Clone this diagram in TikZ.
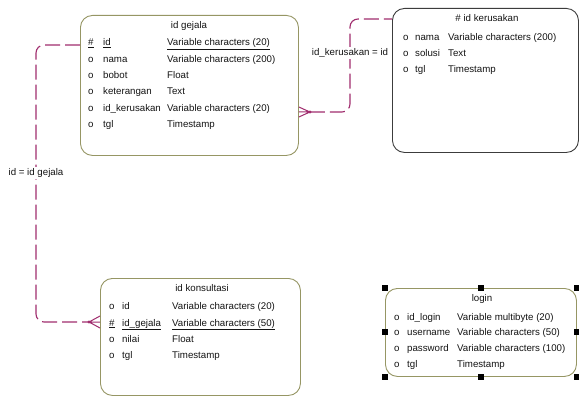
\documentclass[tikz,border=0pt]{standalone}
\usepackage{fontspec}
\setmainfont{Liberation Sans}
\definecolor{olivebd}{RGB}{150,150,100}
\definecolor{darkbd}{RGB}{60,60,60}
\definecolor{relcol}{RGB}{160,45,110}
\definecolor{txtcol}{RGB}{20,20,20}
\tikzset{
  ent/.style={draw=olivebd, line width=0.9pt, rounded corners=12pt, anchor=north west, inner sep=0pt},
  entdark/.style={ent, draw=darkbd},
  txt/.style={anchor=west, inner sep=0pt, text=txtcol, font=\fontsize{9.7}{11}\selectfont, text height=7pt, text depth=2pt},
  ttl/.style={txt, anchor=center},
  rel/.style={draw=relcol, line width=1.1pt, dash pattern=on 15pt off 5pt, rounded corners=8pt},
  relfoot/.style={draw=relcol, line width=1pt},
  lab/.style={txt, anchor=center, fill=white, inner sep=1.5pt},
  handle/.style={fill=black}
}
\begin{document}
\begin{tikzpicture}[x=1pt, y=-1pt]
\useasboundingbox[fill=white] (0,0) rectangle (579,396);

% ---------- id gejala ----------
\node[ent, minimum width=218pt, minimum height=140pt] (gejala) at (80,15) {};
\node[ttl] (gt) at (189,26) {id gejala};
\node[txt] (gm1) at (88,43.5) {\underline{\#}};
\node[txt] (gn1) at (103,43.5) {\underline{id}};
\node[txt] (gy1) at (167,43.5) {\underline{Variable characters (20)}};
\node[txt] (gm2) at (88,60) {o};
\node[txt] (gn2) at (103,60) {nama};
\node[txt] (gy2) at (167,60) {Variable characters (200)};
\node[txt] (gm3) at (88,76.5) {o};
\node[txt] (gn3) at (103,76.5) {bobot};
\node[txt] (gy3) at (167,76.5) {Float};
\node[txt] (gm4) at (88,92.5) {o};
\node[txt] (gn4) at (103,92.5) {keterangan};
\node[txt] (gy4) at (167,92.5) {Text};
\node[txt] (gm5) at (88,108.5) {o};
\node[txt] (gn5) at (103,108.5) {id\_kerusakan};
\node[txt] (gy5) at (167,108.5) {Variable characters (20)};
\node[txt] (gm6) at (88,125) {o};
\node[txt] (gn6) at (103,125) {tgl};
\node[txt] (gy6) at (167,125) {Timestamp};

% ---------- # id kerusakan ----------
\node[entdark, minimum width=186pt, minimum height=144pt] (kerus) at (392,8) {};
\node[ttl] (kt) at (487,19) {\# id kerusakan};
\node[txt] (km1) at (403,38) {o};
\node[txt] (kn1) at (415,38) {nama};
\node[txt] (ky1) at (448,38) {Variable characters (200)};
\node[txt] (km2) at (403,54) {o};
\node[txt] (kn2) at (415,54) {solusi};
\node[txt] (ky2) at (448,54) {Text};
\node[txt] (km3) at (403,70.5) {o};
\node[txt] (kn3) at (415,70.5) {tgl};
\node[txt] (ky3) at (448,70.5) {Timestamp};

% ---------- id konsultasi ----------
\node[ent, minimum width=200pt, minimum height=117pt] (kons) at (100,278) {};
\node[ttl] (ot) at (202,289) {id konsultasi};
\node[txt] (om1) at (109,307) {o};
\node[txt] (on1) at (122,307) {id};
\node[txt] (oy1) at (172,307) {Variable characters (20)};
\node[txt] (om2) at (109,323.5) {\underline{\#}};
\node[txt] (on2) at (122,323.5) {\underline{id\_gejala}};
\node[txt] (oy2) at (172,323.5) {\underline{Variable characters (50)}};
\node[txt] (om3) at (109,340) {o};
\node[txt] (on3) at (122,340) {nilai};
\node[txt] (oy3) at (172,340) {Float};
\node[txt] (om4) at (109,356) {o};
\node[txt] (on4) at (122,356) {tgl};
\node[txt] (oy4) at (172,356) {Timestamp};

% ---------- login ----------
\node[ent, minimum width=191pt, minimum height=88pt] (login) at (385,288) {};
\node[ttl] (lt) at (482,299) {login};
\node[txt] (lm1) at (394,317.5) {o};
\node[txt] (ln1) at (407,317.5) {id\_login};
\node[txt] (ly1) at (457,317.5) {Variable multibyte (20)};
\node[txt] (lm2) at (394,333) {o};
\node[txt] (ln2) at (407,333) {username};
\node[txt] (ly2) at (457,333) {Variable characters (50)};
\node[txt] (lm3) at (394,349) {o};
\node[txt] (ln3) at (407,349) {password};
\node[txt] (ly3) at (457,349) {Variable characters (100)};
\node[txt] (lm4) at (394,365) {o};
\node[txt] (ln4) at (407,365) {tgl};
\node[txt] (ly4) at (457,365) {Timestamp};
% selection handles
\foreach \a in {north west, north, north east, west, east, south west, south, south east}
  \fill[handle] (login.\a) ++(-3,-3) rectangle ++(6,6);

% ---------- relation gejala -> kerusakan ----------
\coordinate (yA) at (0,112);
\coordinate (yB) at (0,19);
\coordinate (bendA) at (350,0);
\coordinate (cA) at (gejala.east |- yA);
\coordinate (tipA) at ([xshift=11pt]cA);
\draw[rel] (tipA) -- (bendA |- cA) -- (bendA |- yB) -- (kerus.west |- yB);
\draw[relfoot] (tipA) -- ([yshift=5pt]cA) (tipA) -- (cA) (tipA) -- ([yshift=-5pt]cA);
\fill[relcol] (tipA) circle (1.6pt);
\node[lab] (labA) at (350,53) {id\_kerusakan = id};

% ---------- relation gejala -> konsultasi ----------
\coordinate (yC) at (0,45);
\coordinate (yD) at (0,322);
\coordinate (bendB) at (36,0);
\coordinate (cB) at (kons.west |- yD);
\coordinate (tipB) at ([xshift=-11pt]cB);
\draw[rel] (gejala.west |- yC) -- (bendB |- yC) -- (bendB |- yD) -- (tipB);
\draw[relfoot] (tipB) -- ([yshift=6pt]cB) (tipB) -- (cB) (tipB) -- ([yshift=-6pt]cB);
\fill[relcol] (tipB) circle (1.6pt);
\node[lab] (labB) at (36,173) {id = id gejala};
\end{tikzpicture}
\end{document}
